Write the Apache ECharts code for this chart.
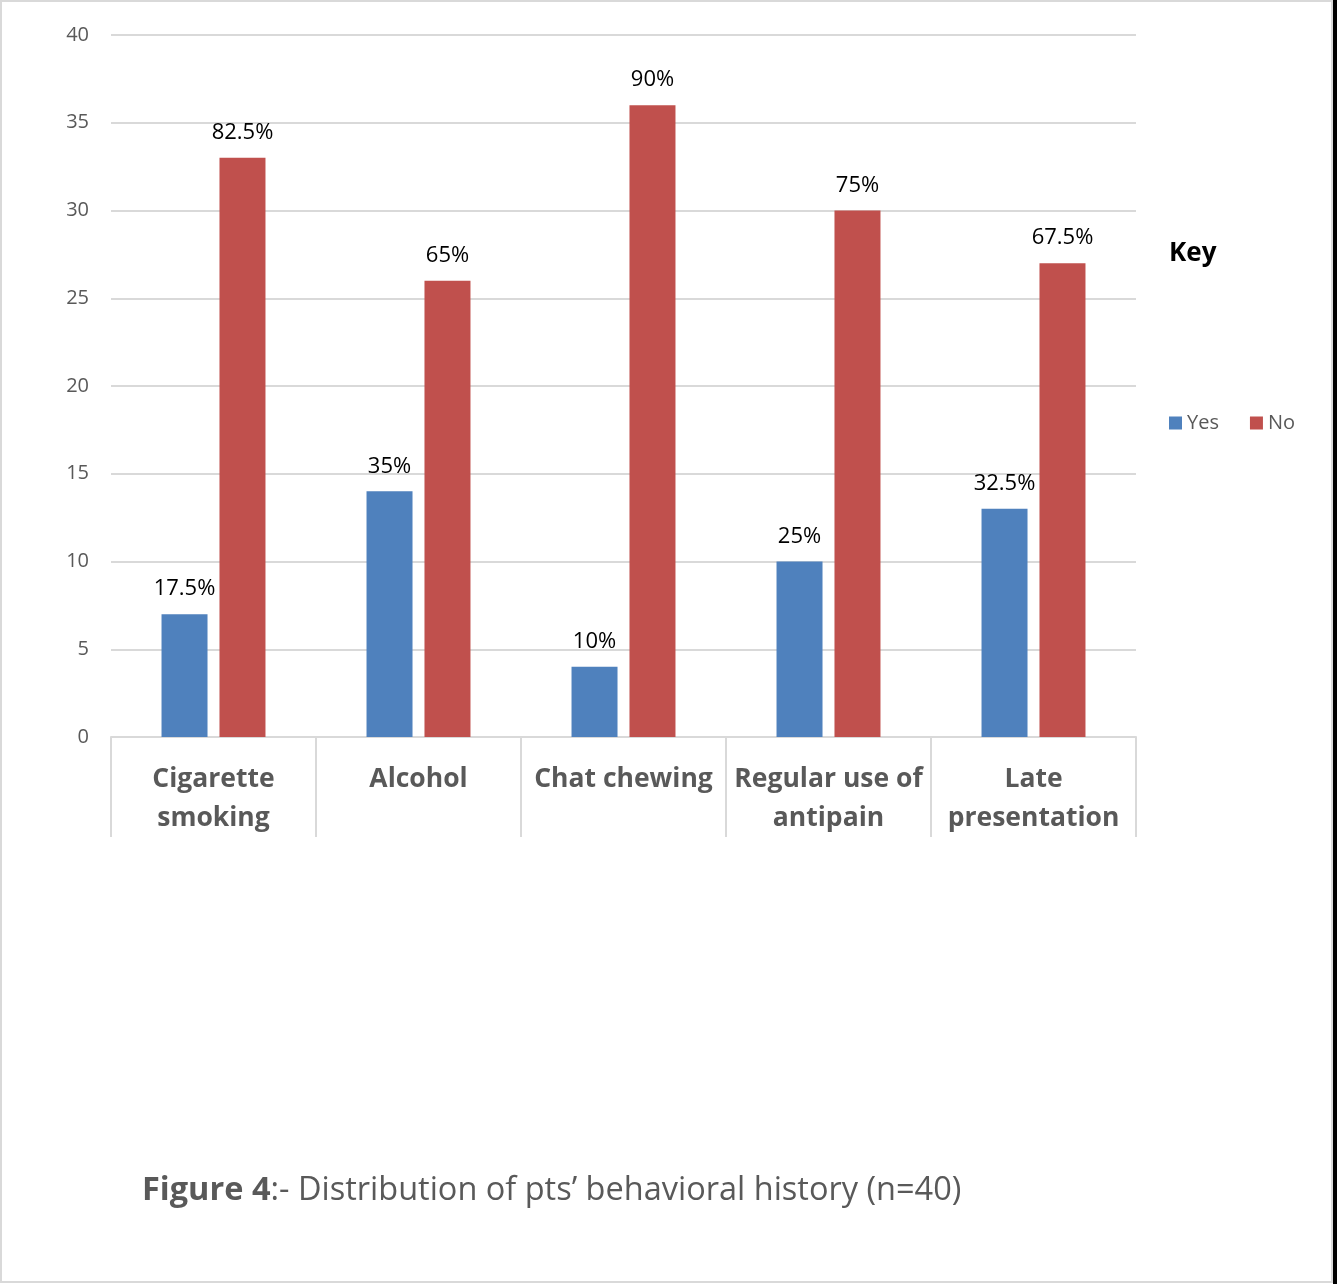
<!DOCTYPE html>
<html>
<head>
<meta charset="utf-8">
<script src="https://cdn.jsdelivr.net/npm/echarts@6.0.0/dist/echarts.min.js"></script>
<style>
  html, body { margin: 0; padding: 0; background: #fff; }
  #main { width: 1337px; height: 1284px; }
</style>
</head>
<body>
<div id="main"></div>
<script>
const categories = ['Cigarette\nsmoking', 'Alcohol', 'Chat chewing', 'Regular use of\nantipain', 'Late\npresentation']
const yesValues = [7, 14, 4, 10, 13]
const noValues = [33, 26, 36, 30, 27]
const yesLabels = ['17.5%', '35%', '10%', '25%', '32.5%']
const noLabels = ['82.5%', '65%', '90%', '75%', '67.5%']

const chart = echarts.init(document.getElementById('main'))

const dataLabel = (labels) => ({
	show: true,
	position: 'top',
	distance: 14,
	color: '#000',
	fontFamily: 'Open Sans',
	fontSize: 22,
	formatter: (p) => labels[p.dataIndex]
})

chart.setOption({
	backgroundColor: '#fff',
	animation: false,
	grid: { left: 111, right: 201, top: 35, bottom: 547 },
	title: {
		text: 'Key',
		left: 1169,
		top: 241,
		padding: 0,
		textStyle: { fontFamily: 'Open Sans', fontWeight: 'bold', fontSize: 26, color: '#000' }
	},
	legend: {
		left: 1169,
		top: 413,
		padding: 0,
		itemWidth: 13,
		itemHeight: 13,
		itemGap: 31,
		icon: 'rect',
		textStyle: { fontFamily: 'Open Sans', fontSize: 20, color: '#595959' },
		data: ['Yes', 'No']
	},
	xAxis: {
		type: 'category',
		data: categories,
		axisLine: { lineStyle: { color: '#d9d9d9', width: 2 } },
		axisTick: { show: true, interval: 0, length: 100, lineStyle: { color: '#d9d9d9', width: 2 } },
		axisLabel: {
			interval: 0,
			margin: 23,
			color: '#595959',
			fontFamily: 'Open Sans',
			fontWeight: 'bold',
			fontSize: 26.5,
			lineHeight: 39
		}
	},
	yAxis: {
		type: 'value',
		min: 0,
		max: 40,
		interval: 5,
		axisLine: { show: false },
		axisTick: { show: false },
		splitLine: { lineStyle: { color: '#d9d9d9', width: 2 } },
		axisLabel: { color: '#595959', fontFamily: 'Open Sans', fontSize: 20, margin: 22 }
	},
	series: [
		{
			name: 'Yes',
			type: 'bar',
			data: yesValues,
			barWidth: 46,
			barGap: '26%',
			itemStyle: { color: '#4f81bd' },
			label: dataLabel(yesLabels)
		},
		{
			name: 'No',
			type: 'bar',
			data: noValues,
			barWidth: 46,
			itemStyle: { color: '#c0504d' },
			label: dataLabel(noLabels)
		}
	],
	graphic: [
		{
			type: 'rect',
			shape: { x: 1, y: 1, width: 1331, height: 1281 },
			style: { fill: 'none', stroke: '#d9d9d9', lineWidth: 2 },
			silent: true
		},
		{
			type: 'rect',
			shape: { x: 1333, y: 0, width: 4, height: 1284 },
			style: { fill: '#000' },
			silent: true
		},
		{
			type: 'text',
			left: 142,
			top: 1174,
			style: {
				text: '{b|Figure 4}:- Distribution of pts\u2019 behavioral history (n=40)',
				fill: '#595959',
				fontFamily: 'Open Sans',
				fontSize: 32.5,
				rich: { b: { fontWeight: 'bold', fontFamily: 'Open Sans', fontSize: 32.5, fill: '#595959' } }
			}
		}
	]
})

window.onresize = () => chart.resize()
</script>
</body>
</html>
